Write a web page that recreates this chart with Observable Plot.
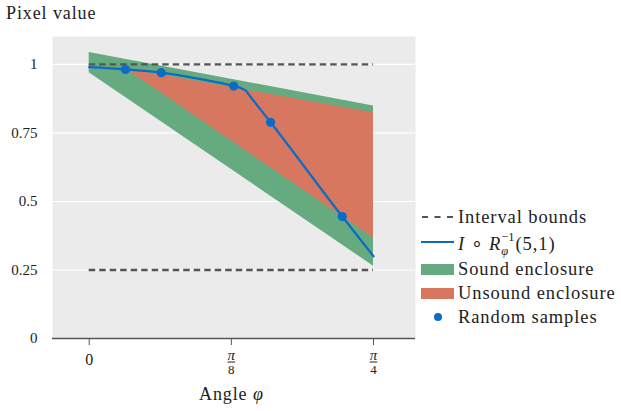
<!DOCTYPE html>
<html>
<head>
<meta charset="utf-8">
<script src="https://cdn.jsdelivr.net/npm/d3@7"></script>
<script src="https://cdn.jsdelivr.net/npm/@observablehq/plot@0.6"></script>
<style>
  html, body { margin: 0; padding: 0; background: #fff; }
  #wrap { position: relative; width: 621px; height: 411px; font-family: "Liberation Serif", serif; color: #222; }
  .t { position: absolute; white-space: nowrap; font-size: 18px; letter-spacing: 0.9px; line-height: 1; }
  .leg { position: absolute; left: 421px; }
  .sw { position: absolute; left: 0; }
  .lt { position: absolute; left: 37px; white-space: nowrap; font-size: 18.5px; letter-spacing: 0.9px; line-height: 1; }
  .ss { display: inline-block; vertical-align: middle; font-size: 12.5px; line-height: 1.15; letter-spacing: 0; position: relative; top: -1px; margin-right: 1px; }
  .ss span { display: block; }
</style>
</head>
<body>
<div id="wrap"></div>
<script>
const PI = Math.PI;
// Tick values
const yTicks = [0, 0.25, 0.5, 0.75, 1];
const xTicks = [0, PI / 8, PI / 4];
const xTickNum = ["0", "π", "π"];
const xTickDen = ["", "8", "4"];

// Interval bounds (dashed)
const boundsY = [0.25, 1];
const boundsX = [0, PI / 4];

// Sound enclosure (green band)
const soundX = [0, PI / 4];
const soundLow = [0.970, 0.264];
const soundHigh = [1.044, 0.848];

// Unsound enclosure (red band)
const unsoundX = [0.100, PI / 4];
const unsoundLow = [0.985, 0.367];
const unsoundHigh = [0.985, 0.824];

// I o R^-1(5,1) curve
const curveX = [0, 0.100, 0.199, 0.300, 0.399, 0.420, 0.432, 0.445, 0.501, 0.699, PI / 4];
const curveY = [0.990, 0.982, 0.970, 0.948, 0.921, 0.913, 0.905, 0.883, 0.789, 0.445, 0.300];

// Random samples
const sampleX = [0.100, 0.199, 0.399, 0.501, 0.699];
const sampleY = [0.982, 0.970, 0.921, 0.789, 0.445];

const sound = soundX.map((x, i) => ({x, lo: soundLow[i], hi: soundHigh[i]}));
const unsound = unsoundX.map((x, i) => ({x, lo: unsoundLow[i], hi: unsoundHigh[i]}));
const curve = curveX.map((x, i) => ({x, y: curveY[i]}));
const samples = sampleX.map((x, i) => ({x, y: sampleY[i]}));
const xt = xTicks.map((x, i) => ({x, num: xTickNum[i], den: xTickDen[i]}));
const xtFrac = xt.filter(d => d.den !== "");

const blue = "#0a6cc4", green = "#66ab7f", red = "#d7775f", dark = "#555";

const chart = Plot.plot({
  width: 621,
  height: 411,
  marginLeft: 52,
  marginRight: 206,
  marginTop: 36,
  marginBottom: 73,
  style: {fontFamily: "'Liberation Serif', serif", fontSize: "15px", color: "#222", background: "transparent"},
  x: {domain: [-0.1014, 0.9014]},
  y: {domain: [0, 1.102]},
  marks: [
    Plot.frame({fill: "#ebebeb", stroke: null}),
    Plot.gridY(yTicks, {stroke: "white", strokeOpacity: 1, strokeWidth: 1.2}),
    Plot.areaY(sound, {x: "x", y1: "lo", y2: "hi", fill: green}),
    Plot.areaY(unsound, {x: "x", y1: "lo", y2: "hi", fill: red}),
    Plot.ruleY(boundsY, {x1: boundsX[0], x2: boundsX[1], stroke: dark, strokeWidth: 2.3, strokeDasharray: "6.5,4"}),
    Plot.line(curve, {x: "x", y: "y", stroke: blue, strokeWidth: 2.2, curve: "monotone-x"}),
    Plot.dot(samples, {x: "x", y: "y", r: 4.6, fill: blue, stroke: null}),
    Plot.ruleY([0], {stroke: dark, strokeWidth: 1.6}),
    Plot.axisY({ticks: yTicks, tickSize: 0, tickPadding: 15, label: null, fontSize: 15, tickFormat: d => String(d)}),
    Plot.axisX({ticks: xTicks, tickSize: 7, tickFormat: () => "", label: null, stroke: dark}),
    Plot.text(xt.filter(d => d.den === ""), {x: "x", y: 0, text: "num", dy: 21, fontSize: 16}),
    Plot.text(xtFrac, {x: "x", y: 0, text: "num", dy: 16.5, fontSize: 15, fontStyle: "italic"}),
    Plot.link(xtFrac, {x1: d => d.x - 0.0105, x2: d => d.x + 0.0105, y1: 0, y2: 0, dy: 23.5, stroke: "#222", strokeWidth: 1}),
    Plot.text(xtFrac, {x: "x", y: 0, text: "den", dy: 31.5, fontSize: 13})
  ]
});

const wrap = document.getElementById("wrap");
wrap.appendChild(chart);
chart.style.position = "absolute";
chart.style.left = "0";
chart.style.top = "0";

function add(html, css, cls = "t") {
  const d = document.createElement("div");
  d.className = cls;
  d.innerHTML = html;
  Object.assign(d.style, css);
  wrap.appendChild(d);
  return d;
}
add("Pixel value", {left: "6px", top: "4px"});
add("Angle <i>φ</i>", {left: "199px", top: "385px"});

const legendItems = [
  {y: 217, kind: "dash", label: "Interval bounds"},
  {y: 242, kind: "line", label: '<i>I</i> ∘ <i>R</i><span class="ss"><span>−1</span><span style="font-style:italic">φ</span></span>(5,1)'},
  {y: 269, kind: "rect", color: green, label: "Sound enclosure"},
  {y: 293, kind: "rect", color: red, label: "Unsound enclosure"},
  {y: 317, kind: "dot", label: "Random samples"}
];
for (const it of legendItems) {
  const g = document.createElement("div");
  g.className = "leg";
  g.style.top = (it.y - 12) + "px";
  let sw = "";
  if (it.kind === "dash") sw = `<svg class="sw" width="34" height="24"><line x1="1" x2="32" y1="12" y2="12" stroke="${dark}" stroke-width="2" stroke-dasharray="6,6.5"/></svg>`;
  if (it.kind === "line") sw = `<svg class="sw" width="34" height="24"><line x1="0" x2="33" y1="12" y2="12" stroke="${blue}" stroke-width="2.2"/></svg>`;
  if (it.kind === "rect") sw = `<svg class="sw" width="34" height="24"><rect x="0" y="7" width="33" height="11" fill="${it.color}"/></svg>`;
  if (it.kind === "dot") sw = `<svg class="sw" width="34" height="24"><circle cx="17" cy="12" r="4" fill="${blue}"/></svg>`;
  g.innerHTML = sw + `<div class="lt" style="top:${it.kind === 'line' ? 1 : 3}px">${it.label}</div>`;
  wrap.appendChild(g);
}
</script>
</body>
</html>
